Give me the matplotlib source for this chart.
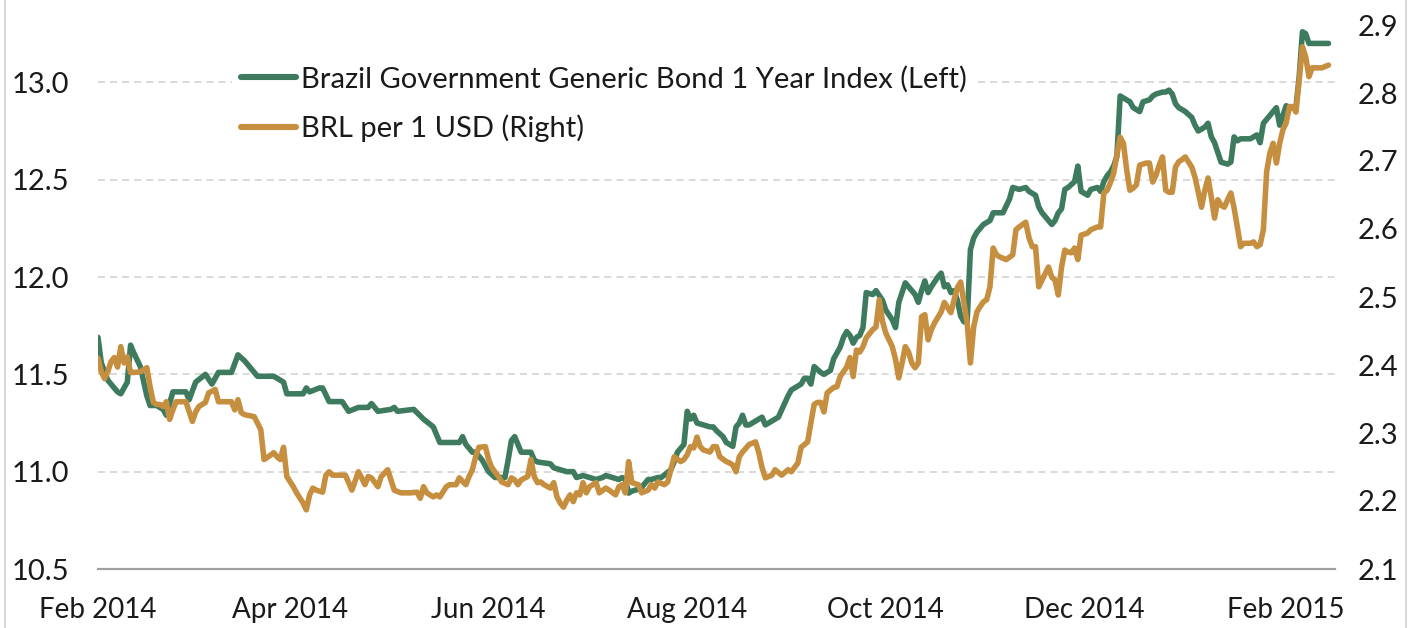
import datetime as dt
import matplotlib
matplotlib.use("Agg")
import matplotlib.pyplot as plt
import matplotlib.dates as mdates
from matplotlib.lines import Line2D

# ---------------- data ----------------
start_date = dt.date(2014, 2, 1)

bond_label = "Brazil Government Generic Bond 1 Year Index (Left)"
brl_label = "BRL per 1 USD (Right)"

# days since 2014-02-01 and Brazil 1Y bond yield (left axis)
bond_days = [0, 1, 3, 6, 7, 9, 10, 11, 13, 15, 16, 18, 20, 21, 23, 27, 28, 30, 33, 35, 37, 41, 43, 45, 49, 54,
             57, 58, 63, 64, 65, 68, 69, 71, 75, 77, 80, 83, 84, 86, 90, 91, 92, 97, 100, 103, 105, 111, 112,
             113, 115, 116, 118, 120, 122, 125, 126, 127, 128, 130, 133, 134, 135, 139, 140, 142, 144, 146, 147,
             149, 151, 153, 155, 156, 158, 160, 161, 162, 163, 164, 166, 167, 169, 170, 172, 173, 176, 177, 178,
             179, 180, 181, 182, 183, 184, 186, 188, 189, 190, 192, 193, 195, 196, 197, 198, 199, 200, 201, 203,
             204, 205, 206, 208, 209, 212, 213, 216, 217, 218, 219, 220, 222, 223, 225, 226, 228, 229, 230, 231,
             232, 233, 234, 235, 236, 238, 239, 241, 242, 244, 245, 246, 248, 249, 251, 252, 253, 254, 255, 256,
             258, 259, 260, 261, 262, 263, 264, 265, 266, 267, 268, 269, 270, 271, 272, 273, 274, 275, 277, 278,
             280, 281, 283, 285, 286, 288, 289, 290, 293, 294, 295, 296, 297, 298, 300, 301, 302, 304, 305, 307,
             308, 309, 310, 311, 312, 313, 314, 315, 316, 317, 318, 320, 321, 323, 324, 325, 327, 328, 329, 330,
             331, 332, 334, 336, 337, 338, 340, 341, 342, 343, 344, 345, 347, 348, 349, 350, 351, 354, 355, 356,
             357, 358, 359, 361, 362, 363, 364, 365, 366, 367, 368, 369, 370, 371, 372, 373, 378]
bond_values = [11.69, 11.56, 11.47, 11.41, 11.40, 11.46, 11.65, 11.61, 11.54, 11.39, 11.34, 11.34, 11.32, 11.29,
               11.41, 11.41, 11.37, 11.46, 11.50, 11.45, 11.51, 11.51, 11.60, 11.57, 11.49, 11.49, 11.46, 11.40,
               11.40, 11.43, 11.41, 11.43, 11.43, 11.36, 11.36, 11.31, 11.33, 11.33, 11.35, 11.31, 11.32, 11.33,
               11.31, 11.32, 11.27, 11.23, 11.15, 11.15, 11.18, 11.14, 11.10, 11.10, 11.06, 11.00, 10.97, 10.97,
               11.06, 11.16, 11.18, 11.10, 11.10, 11.06, 11.05, 11.04, 11.02, 11.01, 11.00, 11.00, 10.97, 10.98,
               10.97, 10.96, 10.97, 10.98, 10.97, 10.96, 10.97, 10.96, 10.89, 10.90, 10.91, 10.92, 10.96, 10.96,
               10.97, 10.97, 11.01, 11.05, 11.10, 11.12, 11.14, 11.31, 11.27, 11.29, 11.25, 11.24, 11.23, 11.23,
               11.21, 11.18, 11.15, 11.13, 11.23, 11.25, 11.29, 11.24, 11.24, 11.25, 11.27, 11.28, 11.24, 11.25,
               11.27, 11.28, 11.39, 11.42, 11.45, 11.48, 11.48, 11.45, 11.54, 11.51, 11.50, 11.52, 11.58, 11.64,
               11.69, 11.72, 11.70, 11.66, 11.69, 11.70, 11.74, 11.92, 11.91, 11.93, 11.88, 11.83, 11.78, 11.74,
               11.87, 11.97, 11.95, 11.91, 11.87, 11.93, 11.98, 11.92, 11.95, 12.00, 12.02, 11.95, 11.96, 11.92,
               11.93, 11.88, 11.80, 11.77, 11.77, 12.14, 12.20, 12.23, 12.25, 12.27, 12.28, 12.29, 12.33, 12.33,
               12.33, 12.40, 12.46, 12.45, 12.46, 12.44, 12.42, 12.36, 12.33, 12.27, 12.29, 12.33, 12.35, 12.45,
               12.46, 12.49, 12.57, 12.44, 12.42, 12.45, 12.46, 12.44, 12.49, 12.52, 12.54, 12.57, 12.62, 12.93,
               12.92, 12.91, 12.90, 12.87, 12.85, 12.90, 12.91, 12.93, 12.94, 12.95, 12.95, 12.96, 12.94, 12.89,
               12.87, 12.85, 12.82, 12.78, 12.75, 12.77, 12.79, 12.72, 12.69, 12.64, 12.59, 12.58, 12.59, 12.72,
               12.70, 12.71, 12.71, 12.72, 12.73, 12.69, 12.79, 12.81, 12.85, 12.87, 12.78, 12.83, 12.88, 12.87,
               12.87, 12.87, 13.03, 13.26, 13.25, 13.20, 13.20, 13.20]

# days since 2014-02-01 and BRL per USD (right axis)
brl_days = [0, 1, 2, 3, 4, 5, 6, 7, 8, 9, 10, 11, 13, 14, 15, 16, 17, 18, 19, 20, 21, 22, 23, 24, 25, 27, 29, 30,
            31, 33, 34, 36, 37, 38, 41, 42, 43, 44, 45, 48, 50, 51, 52, 54, 55, 56, 57, 58, 60, 61, 63, 64, 65,
            66, 67, 69, 70, 71, 72, 76, 78, 80, 81, 82, 83, 84, 86, 87, 89, 90, 91, 93, 96, 98, 99, 100, 101,
            103, 104, 105, 107, 108, 110, 111, 113, 114, 115, 116, 117, 119, 120, 121, 123, 124, 126, 127, 128,
            129, 130, 132, 133, 134, 135, 136, 137, 139, 140, 141, 142, 143, 144, 145, 146, 147, 148, 149, 150,
            151, 153, 154, 156, 157, 159, 160, 161, 162, 163, 164, 166, 167, 169, 170, 171, 172, 174, 175, 177,
            179, 180, 181, 182, 183, 184, 185, 186, 188, 189, 190, 191, 193, 194, 195, 196, 197, 198, 200, 202,
            203, 204, 205, 207, 208, 210, 212, 213, 215, 216, 218, 219, 220, 221, 222, 223, 224, 226, 227, 228,
            230, 231, 232, 233, 234, 235, 236, 238, 239, 240, 241, 242, 244, 245, 246, 247, 248, 249, 250, 251,
            252, 253, 254, 255, 256, 257, 259, 260, 262, 263, 264, 265, 266, 267, 268, 269, 270, 271, 272, 273,
            274, 275, 276, 277, 279, 281, 282, 283, 285, 286, 287, 288, 289, 290, 292, 293, 294, 295, 296, 297,
            298, 299, 300, 301, 302, 304, 305, 307, 308, 309, 310, 311, 312, 314, 315, 316, 317, 318, 319, 320,
            322, 323, 324, 325, 326, 327, 328, 329, 330, 331, 332, 333, 334, 336, 337, 338, 339, 340, 341, 342,
            343, 344, 345, 346, 347, 348, 349, 350, 351, 352, 354, 355, 356, 357, 358, 359, 360, 361, 362, 363,
            364, 365, 366, 367, 368, 369, 370, 371, 372, 373, 374, 375, 376, 378]
brl_values = [2.410, 2.390, 2.380, 2.390, 2.405, 2.411, 2.397, 2.427, 2.403, 2.412, 2.389, 2.389, 2.390, 2.393,
              2.396, 2.368, 2.345, 2.342, 2.342, 2.339, 2.346, 2.320, 2.334, 2.346, 2.346, 2.346, 2.317, 2.331,
              2.339, 2.345, 2.359, 2.364, 2.346, 2.346, 2.346, 2.334, 2.349, 2.330, 2.327, 2.324, 2.305, 2.261,
              2.264, 2.271, 2.265, 2.261, 2.279, 2.236, 2.221, 2.212, 2.197, 2.187, 2.209, 2.219, 2.216, 2.213,
              2.238, 2.243, 2.238, 2.238, 2.216, 2.243, 2.234, 2.224, 2.236, 2.234, 2.221, 2.236, 2.246, 2.231,
              2.216, 2.212, 2.212, 2.213, 2.204, 2.221, 2.212, 2.206, 2.209, 2.206, 2.221, 2.224, 2.224, 2.234,
              2.224, 2.236, 2.246, 2.265, 2.279, 2.280, 2.261, 2.249, 2.236, 2.228, 2.224, 2.234, 2.231, 2.224,
              2.231, 2.236, 2.261, 2.236, 2.227, 2.228, 2.224, 2.219, 2.227, 2.206, 2.197, 2.191, 2.201, 2.209,
              2.199, 2.212, 2.209, 2.227, 2.212, 2.221, 2.227, 2.212, 2.219, 2.216, 2.209, 2.221, 2.224, 2.212,
              2.258, 2.227, 2.224, 2.212, 2.216, 2.224, 2.219, 2.228, 2.224, 2.228, 2.265, 2.258, 2.261, 2.268,
              2.280, 2.278, 2.294, 2.280, 2.275, 2.272, 2.280, 2.280, 2.265, 2.258, 2.256, 2.253, 2.243, 2.265,
              2.272, 2.283, 2.287, 2.271, 2.249, 2.234, 2.238, 2.246, 2.238, 2.246, 2.243, 2.256, 2.279, 2.287,
              2.315, 2.342, 2.345, 2.345, 2.331, 2.359, 2.367, 2.368, 2.383, 2.397, 2.411, 2.383, 2.422, 2.419,
              2.427, 2.440, 2.452, 2.456, 2.496, 2.464, 2.447, 2.427, 2.408, 2.381, 2.403, 2.427, 2.419, 2.403,
              2.396, 2.403, 2.471, 2.474, 2.437, 2.452, 2.462, 2.478, 2.492, 2.477, 2.496, 2.514, 2.522, 2.492,
              2.462, 2.403, 2.456, 2.478, 2.486, 2.493, 2.496, 2.515, 2.572, 2.562, 2.559, 2.555, 2.562, 2.599,
              2.603, 2.610, 2.587, 2.574, 2.574, 2.515, 2.525, 2.544, 2.529, 2.525, 2.503, 2.544, 2.569, 2.566,
              2.565, 2.572, 2.555, 2.591, 2.594, 2.599, 2.603, 2.603, 2.653, 2.657, 2.668, 2.682, 2.735, 2.726,
              2.687, 2.657, 2.660, 2.665, 2.694, 2.697, 2.697, 2.669, 2.679, 2.694, 2.706, 2.657, 2.654, 2.654,
              2.691, 2.699, 2.702, 2.706, 2.691, 2.676, 2.654, 2.632, 2.657, 2.675, 2.647, 2.616, 2.643, 2.635,
              2.632, 2.643, 2.653, 2.631, 2.603, 2.574, 2.579, 2.579, 2.581, 2.574, 2.577, 2.599, 2.684, 2.712,
              2.726, 2.697, 2.726, 2.746, 2.756, 2.780, 2.780, 2.772, 2.819, 2.868, 2.853, 2.824, 2.837, 2.837,
              2.837, 2.837, 2.841]

left_ticks = [10.5, 11.0, 11.5, 12.0, 12.5, 13.0]
right_ticks = [2.1, 2.2, 2.3, 2.4, 2.5, 2.6, 2.7, 2.8, 2.9]
x_tick_dates = ["2014-02-01", "2014-04-01", "2014-06-01", "2014-08-01",
                "2014-10-01", "2014-12-01", "2015-02-01"]
x_end_day = 380

# ---------------- style ----------------
GREEN = "#3e7b5e"
GOLD = "#c68f40"
TEXT = "#1a1a1a"
FONT = "Lato"
FS_XTICK = 20
FS_YTICK = 21
FS_LEG = 21
LW = 4.0

plt.rcParams["font.family"] = [FONT, "DejaVu Sans"]

W, H = 1421, 628
fig = plt.figure(figsize=(W / 100, H / 100), dpi=100)
fig.patch.set_facecolor("white")

ax = fig.add_axes([98 / W, 59 / H, 1237 / W, 544 / H])
ax2 = ax.twinx()

bond_dates = [start_date + dt.timedelta(days=d) for d in bond_days]
brl_dates = [start_date + dt.timedelta(days=d) for d in brl_days]

ax.plot(bond_dates, bond_values, color=GREEN, lw=LW, solid_joinstyle="round",
        solid_capstyle="round", label=bond_label)
ax2.plot(brl_dates, brl_values, color=GOLD, lw=LW, solid_joinstyle="round",
         solid_capstyle="round", label=brl_label)

ax.set_ylim(10.5, 13.0 + 57.4 / 194.8)
ax2.set_ylim(2.1, 2.9)
ax.set_xlim(start_date, start_date + dt.timedelta(days=x_end_day))

ax.set_yticks(left_ticks)
ax.set_yticklabels([f"{v:.1f}" for v in left_ticks])
ax2.set_yticks(right_ticks)
ax2.set_yticklabels([f"{v:.1f}" for v in right_ticks])

xt = [dt.datetime.strptime(s, "%Y-%m-%d").date() for s in x_tick_dates]
ax.set_xticks(xt)
ax.xaxis.set_major_formatter(mdates.DateFormatter("%b %Y"))

ax.tick_params(axis="x", length=0, pad=20, labelsize=FS_XTICK, labelcolor=TEXT)
ax.tick_params(axis="y", length=0, pad=21, labelsize=FS_YTICK, labelcolor=TEXT)
ax2.tick_params(axis="y", length=0, pad=16, labelsize=FS_YTICK, labelcolor=TEXT)

for a in (ax, ax2):
    for s in ("top", "left", "right", "bottom"):
        a.spines[s].set_visible(False)
ax.spines["bottom"].set_visible(True)
ax.spines["bottom"].set_color("#a0a0a0")
ax.spines["bottom"].set_linewidth(1.6)

ax.yaxis.grid(True, color="#d9d9d9", lw=1.4, linestyle=(0, (3.6, 2.6)))
ax.set_axisbelow(True)

handles = [Line2D([], [], color=GREEN, lw=4.4, solid_capstyle="round"),
           Line2D([], [], color=GOLD, lw=4.4, solid_capstyle="round")]
fs_px = FS_LEG * 100 / 72
leg = ax2.legend(handles, [bond_label, brl_label], loc="upper left",
                 bbox_to_anchor=(232 / W, 1 - 57 / H), bbox_transform=fig.transFigure,
                 fontsize=FS_LEG, frameon=True, facecolor="white", edgecolor="white",
                 framealpha=1.0, fancybox=False, borderpad=0.3, borderaxespad=0,
                 handlelength=55 / fs_px, handletextpad=5 / fs_px,
                 labelspacing=0.74)
for t in leg.get_texts():
    t.set_color(TEXT)
leg.get_frame().set_linewidth(0)

# outer frame lines of the chart area
for xpix in (5, 1406):
    fig.add_artist(Line2D([xpix / W, xpix / W], [0, 1], transform=fig.transFigure,
                          color="#d0d0d0", lw=1.2))

fig.savefig("out.png", dpi=100, facecolor="white")
